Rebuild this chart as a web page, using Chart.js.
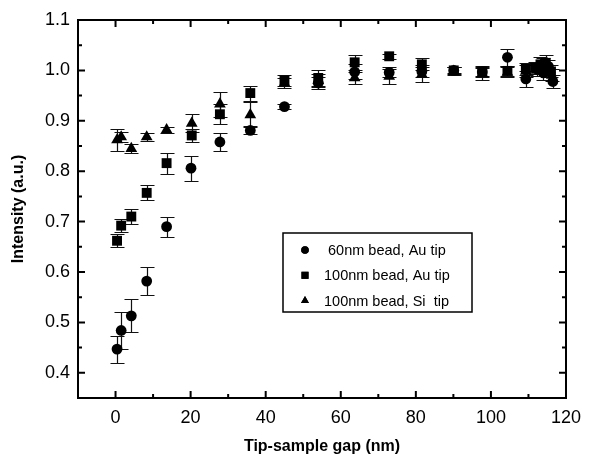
<!DOCTYPE html>
<html>
<head>
<meta charset="utf-8">
<script src="https://cdn.jsdelivr.net/npm/chart.js@4.4.1/dist/chart.umd.min.js"></script>
<style>
  html, body { margin: 0; padding: 0; background: #fff; }
  canvas { display: block; }
</style>
</head>
<body>
<canvas id="gapChart" width="592" height="460"></canvas>
<script>
// legend texts
const seriesNames = [' 60nm bead, Au tip', '100nm bead, Au tip', '100nm bead, Si  tip'];

// 60nm bead, Au tip (circles)
const gap60Au = [0.4, 1.5, 4.2, 8.3, 13.6, 20.1, 27.8, 35.9, 45.0, 54.0, 63.7, 72.9, 81.6, 90.1, 97.7, 104.4, 109.3, 112.5, 114.0, 115.3, 116.5];
const int60Au = [0.447, 0.484, 0.513, 0.582, 0.690, 0.806, 0.858, 0.881, 0.928, 0.975, 0.997, 0.996, 0.998, 1.000, 0.997, 1.026, 0.983, 1.002, 0.995, 1.008, 0.978];
const err60Au = [0.027, 0.037, 0.033, 0.028, 0.020, 0.025, 0.018, 0.008, 0.005, 0.012, 0.015, 0.010, 0.012, 0.006, 0.010, 0.017, 0.015, 0.010, 0.015, 0.012, 0.012];

// 100nm bead, Au tip (squares)
const gap100Au = [0.4, 1.5, 4.2, 8.3, 13.6, 20.3, 27.8, 35.9, 45.0, 54.0, 63.7, 72.9, 81.6, 90.1, 97.7, 104.4, 109.3, 111.8, 113.2, 114.6, 116.0];
const int100Au = [0.662, 0.692, 0.710, 0.757, 0.816, 0.871, 0.913, 0.955, 0.980, 0.985, 1.016, 1.028, 1.012, 1.000, 0.998, 0.999, 1.003, 1.005, 1.012, 1.015, 0.998];
const err100Au = [0.013, 0.013, 0.015, 0.015, 0.021, 0.013, 0.020, 0.015, 0.010, 0.015, 0.015, 0.005, 0.012, 0.007, 0.010, 0.010, 0.012, 0.012, 0.015, 0.015, 0.012];

// 100nm bead, Si tip (triangles)
const gap100Si = [0.4, 1.5, 4.2, 8.3, 13.6, 20.3, 27.8, 35.9, 45.0, 54.0, 63.7, 72.9, 81.6, 90.1, 97.7, 104.4, 109.3, 112.2, 113.8, 115.2, 116.2];
const int100Si = [0.862, 0.868, 0.845, 0.868, 0.882, 0.895, 0.933, 0.912, 0.975, 0.980, 0.985, 0.988, 0.992, 0.998, 0.993, 0.996, 0.998, 1.000, 1.010, 0.998, 0.990];
const err100Si = [0.022, 0.010, 0.008, 0.008, 0.006, 0.018, 0.025, 0.025, 0.010, 0.012, 0.012, 0.015, 0.015, 0.008, 0.012, 0.010, 0.012, 0.012, 0.015, 0.012, 0.012];

// labelled ticks
const xTickLabels = [0, 20, 40, 60, 80, 100, 120];
const yTickLabels = [0.4, 0.5, 0.6, 0.7, 0.8, 0.9, 1.0, 1.1];

const FONT = "'Liberation Sans', Arial, Helvetica, sans-serif";

function points(xs, ys, es) {
  return xs.map((x, i) => ({ x: x, y: ys[i], err: es[i] }));
}

function isXLabel(v) { return xTickLabels.some(t => Math.abs(t - v) < 1e-6); }
function isYLabel(v) { return yTickLabels.some(t => Math.abs(t - v) < 1e-6); }

// error bars under the markers
const errorBars = {
  id: 'errorBars',
  beforeDatasetsDraw(chart) {
    const { ctx, scales: { x, y } } = chart;
    ctx.save();
    ctx.strokeStyle = '#111';
    ctx.lineWidth = 1.2;
    chart.data.datasets.forEach(ds => {
      ds.data.forEach(p => {
        const px = Math.round(x.getPixelForValue(p.x)) + 0.5;
        const top = Math.round(y.getPixelForValue(p.y + p.err)) + 0.5;
        const bot = Math.round(y.getPixelForValue(p.y - p.err)) + 0.5;
        ctx.beginPath();
        ctx.moveTo(px, top); ctx.lineTo(px, bot);
        ctx.moveTo(px - 7, top); ctx.lineTo(px + 7, top);
        ctx.moveTo(px - 7, bot); ctx.lineTo(px + 7, bot);
        ctx.stroke();
      });
    });
    ctx.restore();
  }
};

// frame, inward ticks and the boxed legend
const frame = {
  id: 'frame',
  afterDraw(chart) {
    const { ctx, chartArea: a, scales: { x, y } } = chart;
    ctx.save();
    ctx.strokeStyle = '#000';
    ctx.lineWidth = 2;
    ctx.strokeRect(a.left, a.top, a.right - a.left, a.bottom - a.top);

    ctx.beginPath();
    x.ticks.forEach(t => {
      const px = x.getPixelForValue(t.value);
      const len = isXLabel(t.value) ? 7 : 4;
      ctx.moveTo(px, a.bottom); ctx.lineTo(px, a.bottom - len);
      ctx.moveTo(px, a.top); ctx.lineTo(px, a.top + len);
    });
    y.ticks.forEach(t => {
      const py = y.getPixelForValue(t.value);
      const len = isYLabel(t.value) ? 7 : 4;
      ctx.moveTo(a.left, py); ctx.lineTo(a.left + len, py);
      ctx.moveTo(a.right, py); ctx.lineTo(a.right - len, py);
    });
    ctx.stroke();

    // legend box
    const lx = 283, ly = 233, lw = 189, lh = 79;
    ctx.lineWidth = 1.5;
    ctx.strokeRect(lx, ly, lw, lh);
    ctx.font = '14.5px ' + FONT;
    ctx.fillStyle = '#000';
    ctx.textBaseline = 'middle';
    ctx.textAlign = 'left';
    chart.data.datasets.forEach((ds, i) => {
      const cy = ly + 17 + i * 25.3;
      Chart.helpers.drawPoint(ctx, {
        pointStyle: ds.pointStyle,
        radius: ds.pointStyle === 'circle' ? 3.8 : (ds.pointStyle === 'rect' ? 5 : 4.6),
        borderWidth: 0
      }, lx + 22, cy);
      ctx.fill();
      ctx.fillText(seriesNames[i], lx + 41, cy + 1);
    });
    ctx.restore();
  }
};

new Chart(document.getElementById('gapChart'), {
  type: 'scatter',
  data: {
    datasets: [
      { label: seriesNames[0], data: points(gap60Au, int60Au, err60Au), pointStyle: 'circle', pointRadius: 5.4 },
      { label: seriesNames[1], data: points(gap100Au, int100Au, err100Au), pointStyle: 'rect', pointRadius: 7 },
      { label: seriesNames[2], data: points(gap100Si, int100Si, err100Si), pointStyle: 'triangle', pointRadius: 6.8 }
    ].map(ds => Object.assign(ds, {
      backgroundColor: '#000',
      borderColor: '#000',
      borderWidth: 0,
      pointHoverRadius: ds.pointRadius
    }))
  },
  options: {
    responsive: false,
    animation: false,
    events: [],
    layout: { padding: { left: 0, top: 20, right: 26, bottom: 0 } },
    plugins: {
      legend: { display: false },
      tooltip: { enabled: false }
    },
    scales: {
      x: {
        type: 'linear',
        min: -10,
        max: 120,
        afterFit: s => { s.height = 62; },
        border: { display: false },
        grid: { display: false, drawTicks: false, tickLength: 0 },
        ticks: {
          stepSize: 10,
          autoSkip: false,
          maxRotation: 0,
          padding: 9,
          color: '#000',
          font: { family: FONT, size: 18 },
          callback: v => isXLabel(v) ? String(Math.round(v)) : ''
        },
        title: {
          display: true,
          text: 'Tip-sample gap (nm)',
          color: '#000',
          font: { family: FONT, size: 16, weight: 'bold' },
          padding: { top: 0, bottom: 4 }
        }
      },
      y: {
        type: 'linear',
        min: 0.35,
        max: 1.1,
        afterFit: s => { s.width = 78; },
        border: { display: false },
        grid: { display: false, drawTicks: false, tickLength: 0 },
        ticks: {
          stepSize: 0.05,
          autoSkip: false,
          padding: 8,
          color: '#000',
          font: { family: FONT, size: 18 },
          callback: v => isYLabel(v) ? v.toFixed(1) : ''
        },
        title: {
          display: true,
          text: 'Intensity (a.u.)',
          color: '#000',
          font: { family: FONT, size: 16, weight: 'bold' },
          padding: { top: 9, bottom: 0 }
        }
      }
    }
  },
  plugins: [errorBars, frame]
});
</script>
</body>
</html>
